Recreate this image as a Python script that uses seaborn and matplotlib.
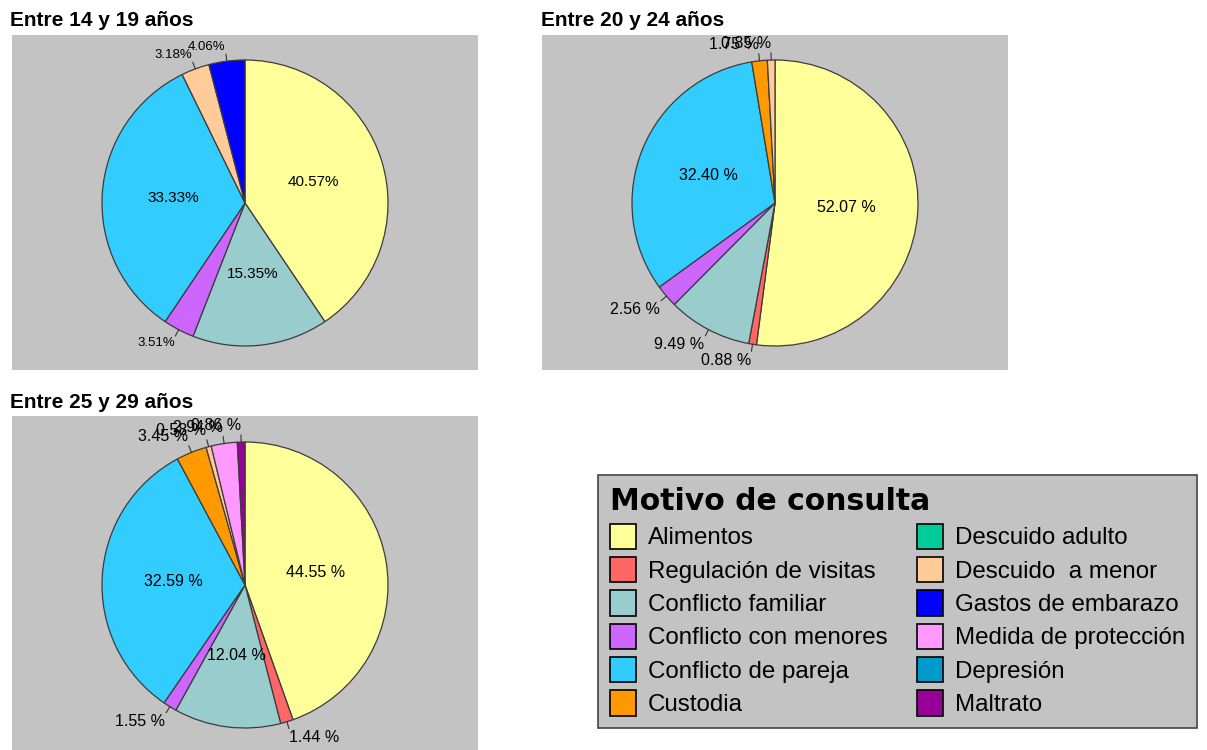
import matplotlib
matplotlib.use("Agg")
import numpy as np
import seaborn as sns
import matplotlib.pyplot as plt
from matplotlib.patches import Patch

# ---------------- data ----------------
categories = ["Alimentos", "Regulación de visitas", "Conflicto familiar",
              "Conflicto con menores", "Conflicto de pareja", "Custodia",
              "Descuido adulto", "Descuido  a menor", "Gastos de embarazo",
              "Medida de protección", "Depresión", "Maltrato"]
colors_hex = ["#FFFF99", "#FF6666", "#99CCCC", "#CC66FF", "#33CCFF", "#FF9900",
              "#00CC99", "#FFCC99", "#0000FF", "#FF99FF", "#0099CC", "#990099"]

values_14_19 = [40.57, 0, 15.35, 3.51, 33.33, 0, 0, 3.18, 4.06, 0, 0, 0]
values_20_24 = [52.07, 0.88, 9.49, 2.56, 32.40, 1.75, 0, 0.85, 0, 0, 0, 0]
values_25_29 = [44.55, 1.44, 12.04, 1.55, 32.59, 3.45, 0, 0.58, 0, 2.94, 0, 0.86]

titles = ["Entre 14 y 19 años", "Entre 20 y 24 años", "Entre 25 y 29 años"]
legend_title = "Motivo de consulta"

# ---------------- style ----------------
sns.set_theme(style="white")
plt.rcParams["font.family"] = ["Liberation Sans", "DejaVu Sans"]
plt.rcParams["text.color"] = "black"
palette = sns.color_palette(colors_hex)
PANEL_GRAY = "#C3C3C3"

W, H = 1207, 750
fig = plt.figure(figsize=(W / 100, H / 100), dpi=100)
fig.patch.set_facecolor("white")

R_PX = 143.0


def px_axes(left, top, width, height):
    return fig.add_axes([left / W, 1 - (top + height) / H, width / W, height / H])


def draw_pie(ax, vals, cy_top, cy_bottom, width, fs_in, fs_out, pct_fmt):
    idx = [i for i, v in enumerate(vals) if v > 0]
    v = [vals[i] for i in idx]
    c = [palette[i] for i in idx]
    wedges, _ = ax.pie(v, colors=c, startangle=90, counterclock=False,
                       wedgeprops=dict(edgecolor="#3c3c3c", linewidth=0.9))
    for w, val in zip(wedges, v):
        mid = np.deg2rad((w.theta1 + w.theta2) / 2)
        cx, cy = np.cos(mid), np.sin(mid)
        txt = pct_fmt.format(val)
        if val >= 10:
            ax.text(0.5 * cx, 0.5 * cy, txt, ha="center", va="center",
                    fontsize=fs_in, color="black")
        else:
            ax.plot([1.0 * cx, 1.05 * cx], [1.0 * cy, 1.05 * cy],
                    color="#333333", lw=0.8)
            ax.text(1.06 * cx, 1.06 * cy, txt,
                    ha="right" if cx < 0 else "left",
                    va="bottom" if cy > 0 else "top",
                    fontsize=fs_out, color="black")
    ax.set_frame_on(True)
    ax.set_facecolor(PANEL_GRAY)
    for s in ax.spines.values():
        s.set_visible(False)
    half_w = width / 2 / R_PX
    ax.set_xlim(-half_w, half_w)
    ax.set_ylim(-cy_bottom / R_PX, cy_top / R_PX)
    ax.set_xticks([])
    ax.set_yticks([])


# panel 1
ax1 = px_axes(12, 35, 466, 335)
draw_pie(ax1, values_14_19, 168, 167, 466, 11, 9.5, "{:.2f}%")
# panel 2
ax2 = px_axes(542, 35, 466, 335)
draw_pie(ax2, values_20_24, 168, 167, 466, 11.5, 11.5, "{:.2f} %")
# panel 3
ax3 = px_axes(12, 416, 466, 334)
draw_pie(ax3, values_25_29, 169, 165, 466, 11.5, 11.5, "{:.2f} %")

# titles
for x, y, t in [(10, 20, titles[0]), (541, 20, titles[1]), (10, 403, titles[2])]:
    fig.text(x / W, 1 - y / H, t, fontsize=15, fontweight="bold",
             va="center", ha="left", color="black")

# legend
handles = [Patch(facecolor=palette[i], edgecolor="black", linewidth=1.2)
           for i in range(len(categories))]
leg = fig.legend(handles, categories, loc="upper left",
                 bbox_to_anchor=(598 / W, 1 - 475 / H), ncol=2,
                 title=legend_title,
                 title_fontproperties={"family": "DejaVu Sans", "weight": "heavy", "size": 21.5},
                 alignment="left", fontsize=17.4, frameon=True, fancybox=False,
                 facecolor=PANEL_GRAY, edgecolor="#444444", framealpha=1,
                 handlelength=1.07, handleheight=1.24, handletextpad=0.5,
                 labelspacing=0.31, columnspacing=1.2, borderpad=0.5,
                 borderaxespad=0)
leg.get_frame().set_linewidth(1.2)
for t in leg.get_texts():
    t.set_color("black")
leg.get_title().set_color("black")

fig.savefig("out.png", dpi=100, facecolor="white")
